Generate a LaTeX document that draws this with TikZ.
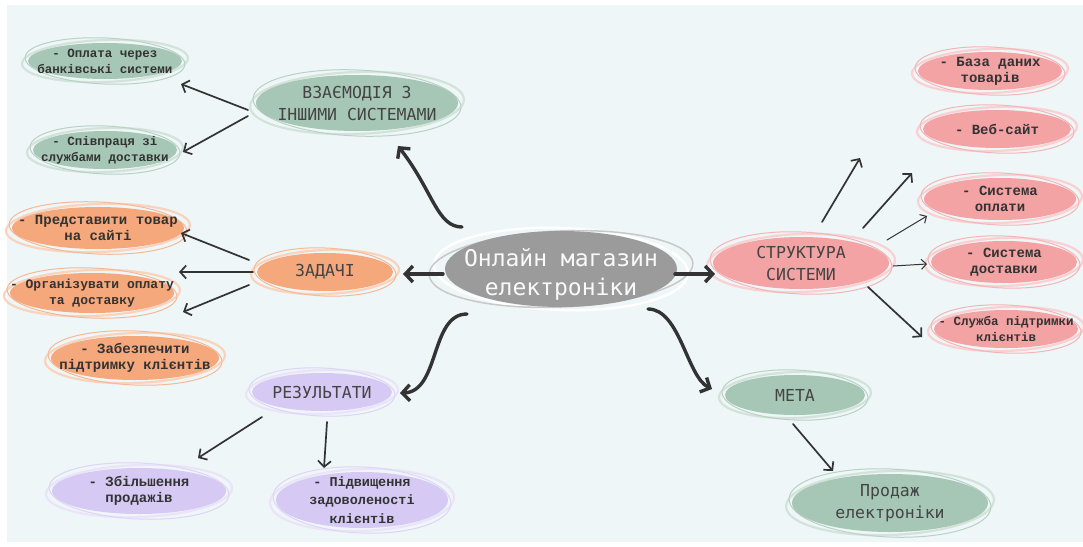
\documentclass[tikz,border=0pt]{standalone}
\usepackage{fontspec}
\usetikzlibrary{arrows.meta,shapes.geometric}
\newfontfamily\headf{DejaVu Sans Mono}
\newfontfamily\leaff{Liberation Mono}
\definecolor{bgc}{HTML}{EEF6F8}
\definecolor{grn}{HTML}{A6C7B5}
\definecolor{orng}{HTML}{F5A87B}
\definecolor{pnk}{HTML}{F3A3A4}
\definecolor{prp}{HTML}{D6CAF4}
\definecolor{gry}{HTML}{9B9B9B}
\definecolor{ink}{HTML}{333333}
\definecolor{txt}{HTML}{444444}
\tikzset{
  bub/.style={ellipse, inner sep=0pt, draw=none},
  headtext/.style={font=\headf\fontsize{16.5}{22}\selectfont, text=txt, align=center},
  centertext/.style={font=\headf\fontsize{23}{29}\selectfont, text=white!95!gray, align=center},
  leafA/.style={font=\leaff\bfseries\fontsize{14}{16}\selectfont, text=ink, align=center},
  leafB/.style={font=\leaff\bfseries\fontsize{12.5}{16}\selectfont, text=ink, align=center},
  leafC/.style={font=\leaff\bfseries\fontsize{13.5}{18.5}\selectfont, text=ink, align=center},
  arrBig/.style={draw=ink, line width=3.4pt, line cap=round, -{Straight Barb[length=7.5pt,width=16pt]}},
  arrMid/.style={draw=ink, line width=1.7pt, line cap=round, -{Straight Barb[length=6pt,width=13pt]}},
  arrThin/.style={draw=ink, line width=1pt, line cap=round, -{Straight Barb[length=5pt,width=10pt]}},
}
% #1 label options, #2 name, #3 position, #4 x radius, #5 y radius, #6 colour, #7 text
\newcommand\mmBubble[7][]{%
  \begin{scope}[shift={#3}]
    \draw[#6!50!white, line width=2.2pt, rotate=2] (0,0) ellipse [x radius=#4+6, y radius=#5+3];
    \draw[#6!80!white, line width=1pt, rotate=-2.5] (0,0) ellipse [x radius=#4+3, y radius=#5+5];
  \end{scope}
  \node[bub, fill=#6, minimum width=2*#4, minimum height=2*#5, label={[#1]center:{#7}}] (#2) at #3 {};
}
\begin{document}
\begin{tikzpicture}[x=1pt, y=-1pt]
\useasboundingbox (0,0) rectangle (1083,546);
\fill[white] (0,0) rectangle (1083,546);
\fill[bgc] (7,5) rectangle (1083,542);

% centre
\begin{scope}[shift={(561,269)}]
  \draw[white, line width=2.4pt, rotate=-2] (0,0) ellipse [x radius=127, y radius=41];
  \draw[gry!55!white, line width=1.5pt, rotate=2.5] (0,0) ellipse [x radius=132, y radius=38];
\end{scope}
\node[bub, fill=gry, minimum width=232, minimum height=76,
  label={[centertext, yshift=-5pt]center:{Онлайн магазин\\електроніки}}] (c) at (561,269) {};

% green: interaction
\mmBubble[headtext]{vz}{(357,103)}{101}{28}{grn}{ВЗАЄМОДІЯ З\\ІНШИМИ СИСТЕМАМИ}
\mmBubble[leafB]{op}{(105,61)}{77}{18}{grn}{- Оплата через\\банківські системи}
\mmBubble[leafB]{sp}{(105,150)}{72}{19}{grn}{- Співпраця зі\\службами доставки}

% orange: tasks
\mmBubble[headtext]{zd}{(325,272)}{68}{19}{orng}{ЗАДАЧІ}
\mmBubble[leafA]{pr}{(98,228)}{86}{21}{orng}{- Представити товар\\на сайті}
\mmBubble[leafA, font=\leaff\bfseries\fontsize{13}{16}\selectfont]{org}{(92,293)}{82}{20}{orng}{- Організувати оплату\\та доставку}
\mmBubble[leafA]{zab}{(135,358)}{84}{22}{orng}{- Забезпечити\\підтримку клієнтів}

% pink: structure
\mmBubble[headtext]{st}{(801,263)}{88}{26}{pnk}{СТРУКТУРА\\СИСТЕМИ}
\mmBubble[leafA]{bd}{(990,71)}{72}{19}{pnk}{- База даних\\товарів}
\mmBubble[leafA]{web}{(997,129)}{74}{19}{pnk}{- Веб-сайт}
\mmBubble[leafA]{so}{(1000,199)}{76}{21}{pnk}{- Система\\оплати}
\mmBubble[leafA]{sd}{(1004,262)}{73}{21}{pnk}{- Система\\доставки}
\mmBubble[leafB]{sl}{(1006,329)}{72}{19}{pnk}{- Служба підтримки\\клієнтів}

% purple: results
\mmBubble[headtext]{res}{(322,392)}{70}{19}{prp}{РЕЗУЛЬТАТИ}
\mmBubble[leafA]{zb}{(139,491)}{87}{23}{prp}{- Збільшення\\продажів}
\mmBubble[leafC]{pid}{(362,500)}{86}{28}{prp}{- Підвищення\\задоволеності\\клієнтів}

% green: goal
\mmBubble[headtext]{meta}{(795,395)}{70}{20}{grn}{МЕТА}
\mmBubble[headtext]{prod}{(890,503)}{98}{29}{grn}{Продаж\\електроніки}

% connectors from centre
\draw[arrBig] ([shift={(-99,-42)}]c.center) .. controls +(-25,0) and +(35,45) .. ([shift={(41,43)}]vz.center);
\draw[arrBig] ([shift={(-118,5)}]c.center) -- ([shift={(78,2)}]zd.center);
\draw[arrBig] ([shift={(114,5)}]c.center) -- ([shift={(-86,11)}]st.center);
\draw[arrBig] ([shift={(-94,45)}]c.center) .. controls +(-37,0) and +(40,-1) .. ([shift={(78,1)}]res.center);
\draw[arrBig] ([shift={(87,40)}]c.center) .. controls +(32,0) and +(-25,-12) .. ([shift={(-83,-6)}]meta.center);

% interaction
\draw[arrMid] ([shift={(-109,7)}]vz.center) -- ([shift={(76,23)}]op.center);
\draw[arrMid] ([shift={(-109,13)}]vz.center) -- ([shift={(78,2)}]sp.center);

% tasks
\draw[arrMid] ([shift={(-76,-12)}]zd.center) -- ([shift={(83,5)}]pr.center);
\draw[arrMid] ([shift={(-72,0)}]zd.center) -- ([shift={(87,-21)}]org.center);
\draw[arrMid] ([shift={(-76,13)}]zd.center) -- ([shift={(48,-46)}]zab.center);

% structure
\draw[arrMid] ([shift={(21,-41)}]st.center) -- ([shift={(-130,87)}]bd.center);
\draw[arrMid] ([shift={(62,-35)}]st.center) -- ([shift={(-85,44)}]web.center);
\draw[arrThin] ([shift={(86,-23)}]st.center) -- ([shift={(-73,17)}]so.center);
\draw[arrThin] ([shift={(92,3)}]st.center) -- ([shift={(-77,2)}]sd.center);
\draw[arrMid] ([shift={(67,24)}]st.center) -- ([shift={(-84,8)}]sl.center);

% results
\draw[arrMid] ([shift={(-60,25)}]res.center) -- ([shift={(59,-33)}]zb.center);
\draw[arrMid] ([shift={(5,30)}]res.center) -- ([shift={(-38,-32)}]pid.center);

% goal
\draw[arrMid] ([shift={(-2,29)}]meta.center) -- ([shift={(-57,-32)}]prod.center);
\end{tikzpicture}
\end{document}
